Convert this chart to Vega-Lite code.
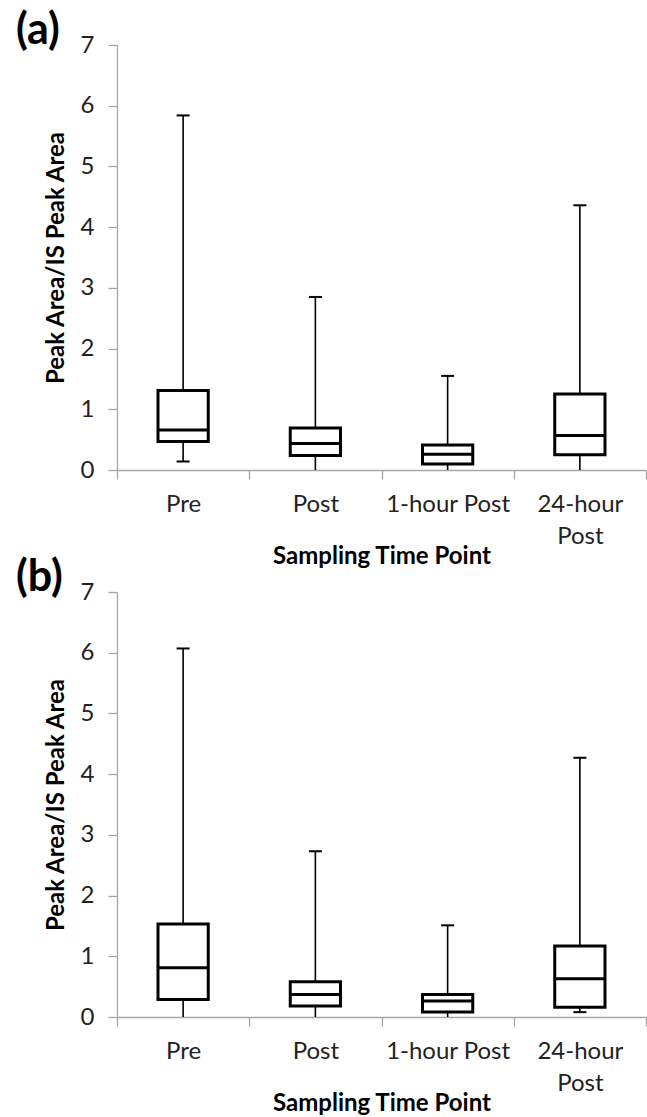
{
  "$schema": "https://vega.github.io/schema/vega-lite/v6.json",
  "padding": {"left": 16, "top": 10, "right": 0, "bottom": 0},
  "spacing": -11,
  "config": {"view": {"stroke": null}, "font": "Lato"},
  "data": {"values": [
    {"panel": "a", "time": "Pre", "min": 0.14, "q1": 0.47, "median": 0.66, "q3": 1.31, "max": 5.84},
    {"panel": "a", "time": "Post", "min": 0, "q1": 0.24, "median": 0.435, "q3": 0.69, "max": 2.85},
    {"panel": "a", "time": "1-hour Post", "min": 0, "q1": 0.10, "median": 0.26, "q3": 0.41, "max": 1.55},
    {"panel": "a", "time": "24-hour Post", "min": 0, "q1": 0.25, "median": 0.57, "q3": 1.25, "max": 4.36},
    {"panel": "b", "time": "Pre", "min": 0, "q1": 0.29, "median": 0.81, "q3": 1.53, "max": 6.07},
    {"panel": "b", "time": "Post", "min": 0, "q1": 0.18, "median": 0.37, "q3": 0.58, "max": 2.73},
    {"panel": "b", "time": "1-hour Post", "min": 0, "q1": 0.083, "median": 0.265, "q3": 0.37, "max": 1.51},
    {"panel": "b", "time": "24-hour Post", "min": 0.08, "q1": 0.16, "median": 0.63, "q3": 1.17, "max": 4.27}
  ]},
  "vconcat": [
    {
      "width": 529, "height": 425,
      "title": {"text": "(a)", "anchor": "start", "frame": "group", "font": "Lato", "fontSize": 43, "fontWeight": "bold", "color": "black", "dx": -101, "baseline": "alphabetic", "offset": -54},
      "transform": [{"filter": "datum.panel == 'a'"}],
      "encoding": {
        "x": {"field": "time", "type": "nominal", "sort": ["Pre", "Post", "1-hour Post", "24-hour Post"],
              "scale": {"paddingInner": 0, "paddingOuter": 0},
              "axis": {"title": "Sampling Time Point", "labelAngle": 0, "tickBand": "extent", "tickSize": 9, "tickColor": "#a6a6a6", "domainColor": "#a6a6a6", "domainWidth": 1.3, "tickWidth": 1.3,
                       "labelFont": "Lato", "labelFontSize": 24, "labelColor": "#222", "labelPadding": 13, "labelLineHeight": 32,
                       "labelExpr": "datum.label == '24-hour Post' ? ['24-hour','Post'] : datum.label",
                       "titleFont": "Lato", "titleFontSize": 24, "titleFontWeight": "bold", "titleColor": "black", "titlePadding": -4}}
      },
      "layer": [
        {"mark": {"type": "rule", "color": "black", "strokeWidth": 1.6},
         "encoding": {"y": {"field": "min", "type": "quantitative", "title": "Peak Area/IS Peak Area", "scale": {"domain": [0, 7], "nice": false},
                            "axis": {"values": [0, 1, 2, 3, 4, 5, 6, 7], "format": "d", "grid": false, "tickSize": 9, "tickColor": "#a6a6a6", "domainColor": "#a6a6a6", "domainWidth": 1.3, "tickWidth": 1.3,
                                     "labelFont": "Lato", "labelFontSize": 24, "labelColor": "#222", "labelPadding": 14,
                                     "titleFont": "Lato", "titleFontSize": 24, "titleFontWeight": "bold", "titleColor": "black", "titlePadding": 12}},
                      "y2": {"field": "max"}}},
        {"mark": {"type": "tick", "color": "black", "thickness": 2, "size": 13, "opacity": 1},
         "encoding": {"y": {"field": "max", "type": "quantitative", "title": "Peak Area/IS Peak Area"}}},
        {"transform": [{"filter": "datum.min > 0"}],
         "mark": {"type": "tick", "color": "black", "thickness": 2, "size": 13, "opacity": 1},
         "encoding": {"y": {"field": "min", "type": "quantitative", "title": "Peak Area/IS Peak Area"}}},
        {"mark": {"type": "bar", "fill": "white", "stroke": "black", "strokeWidth": 3, "width": {"band": 0.38}},
         "encoding": {"y": {"field": "q1", "type": "quantitative", "title": "Peak Area/IS Peak Area"}, "y2": {"field": "q3"}}},
        {"mark": {"type": "tick", "color": "black", "thickness": 3, "size": 50, "opacity": 1},
         "encoding": {"y": {"field": "median", "type": "quantitative", "title": "Peak Area/IS Peak Area"}}}
      ]
    },
    {
      "width": 529, "height": 425,
      "title": {"text": "(b)", "anchor": "start", "frame": "group", "font": "Lato", "fontSize": 43, "fontWeight": "bold", "color": "black", "dx": -101, "baseline": "alphabetic", "offset": -54},
      "transform": [{"filter": "datum.panel == 'b'"}],
      "encoding": {
        "x": {"field": "time", "type": "nominal", "sort": ["Pre", "Post", "1-hour Post", "24-hour Post"],
              "scale": {"paddingInner": 0, "paddingOuter": 0},
              "axis": {"title": "Sampling Time Point", "labelAngle": 0, "tickBand": "extent", "tickSize": 9, "tickColor": "#a6a6a6", "domainColor": "#a6a6a6", "domainWidth": 1.3, "tickWidth": 1.3,
                       "labelFont": "Lato", "labelFontSize": 24, "labelColor": "#222", "labelPadding": 13, "labelLineHeight": 32,
                       "labelExpr": "datum.label == '24-hour Post' ? ['24-hour','Post'] : datum.label",
                       "titleFont": "Lato", "titleFontSize": 24, "titleFontWeight": "bold", "titleColor": "black", "titlePadding": -4}}
      },
      "layer": [
        {"mark": {"type": "rule", "color": "black", "strokeWidth": 1.6},
         "encoding": {"y": {"field": "min", "type": "quantitative", "title": "Peak Area/IS Peak Area", "scale": {"domain": [0, 7], "nice": false},
                            "axis": {"values": [0, 1, 2, 3, 4, 5, 6, 7], "format": "d", "grid": false, "tickSize": 9, "tickColor": "#a6a6a6", "domainColor": "#a6a6a6", "domainWidth": 1.3, "tickWidth": 1.3,
                                     "labelFont": "Lato", "labelFontSize": 24, "labelColor": "#222", "labelPadding": 14,
                                     "titleFont": "Lato", "titleFontSize": 24, "titleFontWeight": "bold", "titleColor": "black", "titlePadding": 12}},
                      "y2": {"field": "max"}}},
        {"mark": {"type": "tick", "color": "black", "thickness": 2, "size": 13, "opacity": 1},
         "encoding": {"y": {"field": "max", "type": "quantitative", "title": "Peak Area/IS Peak Area"}}},
        {"transform": [{"filter": "datum.min > 0"}],
         "mark": {"type": "tick", "color": "black", "thickness": 2, "size": 13, "opacity": 1},
         "encoding": {"y": {"field": "min", "type": "quantitative", "title": "Peak Area/IS Peak Area"}}},
        {"mark": {"type": "bar", "fill": "white", "stroke": "black", "strokeWidth": 3, "width": {"band": 0.38}},
         "encoding": {"y": {"field": "q1", "type": "quantitative", "title": "Peak Area/IS Peak Area"}, "y2": {"field": "q3"}}},
        {"mark": {"type": "tick", "color": "black", "thickness": 3, "size": 50, "opacity": 1},
         "encoding": {"y": {"field": "median", "type": "quantitative", "title": "Peak Area/IS Peak Area"}}}
      ]
    }
  ]
}
